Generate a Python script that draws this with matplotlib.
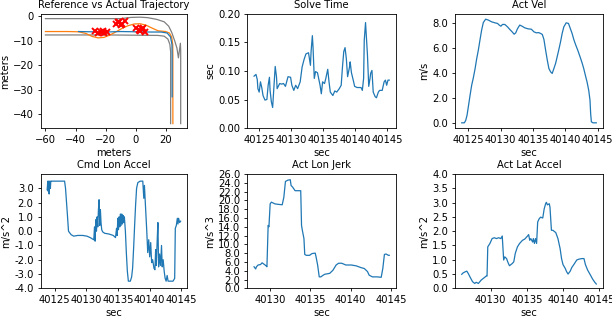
import numpy as np
import matplotlib
matplotlib.use("Agg")
import matplotlib.pyplot as plt
from matplotlib.ticker import FormatStrFormatter

FS = 7.2
plt.rcParams.update({
    "font.family": ["DejaVu Sans"],
    "font.size": FS,
    "axes.titlesize": FS,
    "axes.labelsize": FS,
    "xtick.labelsize": FS,
    "ytick.labelsize": FS,
    "axes.linewidth": 0.6,
    "xtick.major.width": 0.6,
    "ytick.major.width": 0.6,
    "xtick.major.size": 2.5,
    "ytick.major.size": 2.5,
    "xtick.major.pad": 2.5,
    "ytick.major.pad": 2.5,
    "axes.titlepad": 4,
    "axes.labelpad": 2,
})

# ---------------- Trajectory ----------------
lane_outer_x = [-60, -20, -10, -3, 3, 8, 14, 19, 22, 24, 26, 27.5, 28.5, 29.8, 30, 30]
lane_outer_y = [-0.9, -0.9, -0.9, -0.4, -0.3, -0.5, -1.2, -2.2, -4.0, -6.5, -10.0, -13.0, -17.0, -11.0, -14.0, -44]
lane_inner_x = [-60, -20, 0, 15, 19, 21.5, 22.8, 23.3, 23.3]
lane_inner_y = [-7.6, -7.6, -7.7, -7.8, -8.1, -9.3, -11.5, -14.5, -44]
ref_x = [-60, -45, -38, -33, -29, -25, -21, -17, -13, -9, -5, -1, 3, 7, 11, 15, 20, 22.5, 24.0, 24.7, 24.8, 24.8]
ref_y = [-6.2, -6.2, -6.3, -7.0, -8.2, -8.8, -8.6, -7.6, -6.3, -4.9, -3.8, -3.1, -3.0, -3.6, -4.8, -5.9, -6.2, -6.8, -8.5, -11.5, -16.0, -44]
act_x = [-38, -30, -20, -10, 0, 10, 17, 21, 23.2, 24.2, 24.3, 24.3]
act_y = [-6.2, -6.3, -6.4, -6.2, -6.3, -6.4, -6.4, -6.8, -8.4, -11.5, -16.0, -33.0]
obs_x = [-27, -25, -23, -21, -19, -22, -13, -11, -9, -7, -10, -12, 0, 2, 4, 6, 3, 5]
obs_y = [-6.0, -6.8, -6.2, -6.7, -6.3, -5.8, -3.2, -2.4, -2.9, -2.0, -3.4, -2.1, -4.6, -5.6, -5.0, -6.2, -6.0, -4.8]

# ---------------- Solve Time ----------------
solve_t = [40124.2, 40124.5, 40124.7, 40124.8, 40125.0, 40125.2, 40125.4, 40125.6, 40125.9, 40126.2,
           40126.4, 40126.6, 40126.7, 40126.9, 40127.1, 40127.3, 40127.5, 40127.7, 40127.8, 40128.2,
           40128.5, 40128.8, 40129.1, 40129.5, 40129.9, 40130.1, 40130.4, 40130.7, 40131.0, 40131.4,
           40131.7, 40132.0, 40132.3, 40132.7, 40133.0, 40133.1, 40133.3, 40133.4, 40133.6, 40133.8,
           40134.1, 40134.5, 40134.7, 40134.9, 40135.2, 40135.4, 40135.7, 40135.9, 40136.1, 40136.5,
           40136.8, 40137.1, 40137.5, 40137.8, 40138.0, 40138.2, 40138.4, 40138.6, 40138.8, 40139.1,
           40139.2, 40139.4, 40139.7, 40139.9, 40140.3, 40140.9, 40141.1, 40141.3, 40141.4, 40141.6,
           40141.7, 40141.9, 40142.1, 40142.3, 40142.4, 40142.6, 40142.8, 40143.1, 40143.3, 40143.6,
           40143.8, 40144.2, 40144.5, 40144.7, 40144.9, 40145.1, 40145.3]
solve_v = [0.091, 0.094, 0.085, 0.069, 0.063, 0.081, 0.071, 0.057, 0.049, 0.050,
           0.075, 0.089, 0.066, 0.046, 0.036, 0.072, 0.108, 0.090, 0.069, 0.078,
           0.077, 0.078, 0.073, 0.090, 0.089, 0.075, 0.066, 0.075, 0.069, 0.081,
           0.107, 0.120, 0.130, 0.132, 0.110, 0.134, 0.162, 0.143, 0.087, 0.099,
           0.097, 0.075, 0.060, 0.081, 0.078, 0.087, 0.103, 0.081, 0.063, 0.057,
           0.065, 0.063, 0.069, 0.075, 0.107, 0.134, 0.141, 0.122, 0.090, 0.107,
           0.116, 0.097, 0.083, 0.073, 0.071, 0.071, 0.066, 0.087, 0.154, 0.185,
           0.166, 0.128, 0.073, 0.087, 0.096, 0.101, 0.063, 0.055, 0.053, 0.063,
           0.066, 0.066, 0.081, 0.084, 0.075, 0.084, 0.084]

# ---------------- Act Vel ----------------
vel_t = [40123.97, 40124.38, 40124.59, 40124.79, 40125.0, 40125.26, 40125.51, 40125.77, 40126.03, 40126.28,
         40126.54, 40126.79, 40127.05, 40127.31, 40127.67, 40128.08, 40128.59, 40129.10, 40129.51, 40129.77,
         40130.03, 40130.28, 40130.64, 40131.05, 40131.41, 40131.77, 40132.08, 40132.33, 40132.59, 40132.95,
         40133.31, 40133.72, 40134.23, 40134.74, 40135.15, 40135.51, 40135.87, 40136.18, 40136.44, 40136.69,
         40136.95, 40137.21, 40137.46, 40137.72, 40137.97, 40138.23, 40138.49, 40138.74, 40139.00, 40139.26,
         40139.51, 40139.77, 40140.13, 40140.49, 40140.79, 40141.05, 40141.31, 40141.56, 40141.92, 40142.28,
         40142.59, 40142.85, 40143.10, 40143.36, 40143.62, 40143.82, 40143.92, 40144.03, 40144.28, 40144.79]
vel_v = [0.0, 0.0, 0.2, 0.6, 1.3, 2.2, 3.0, 3.6, 4.3, 5.1,
         5.8, 6.6, 7.4, 8.0, 8.27, 8.2, 8.06, 7.98, 7.93, 7.8,
         7.71, 7.85, 7.85, 7.66, 7.45, 7.26, 7.07, 7.18, 7.5, 7.8,
         7.71, 7.58, 7.5, 7.47, 7.26, 7.18, 7.2, 7.13, 7.05, 6.65,
         5.8, 5.0, 4.33, 4.07, 3.94, 4.33, 4.73, 5.27, 5.85, 6.46,
         7.13, 7.66, 7.98, 7.93, 7.5, 7.13, 6.65, 6.28, 5.8, 5.27,
         4.79, 4.33, 3.8, 3.27, 2.6, 1.8, 0.74, 0.08, 0.0, 0.0]

# ---------------- Cmd Lon Accel ----------------
cmd_t = [40123.81, 40123.91, 40123.96, 40124.06, 40124.12, 40124.22, 40124.32, 40124.38, 40124.48, 40126.56,
         40126.71, 40126.87, 40127.03, 40127.18, 40127.34, 40127.60, 40128.01, 40128.64, 40129.42, 40130.09,
         40130.61, 40130.97, 40131.18, 40131.29, 40131.39, 40131.49, 40131.60, 40131.70, 40131.81, 40131.91,
         40132.01, 40132.12, 40132.22, 40132.32, 40132.43, 40132.58, 40132.90, 40133.57, 40134.25, 40134.61,
         40134.77, 40134.87, 40134.97, 40135.08, 40135.18, 40135.29, 40135.39, 40135.49, 40135.60, 40135.70,
         40135.81, 40135.91, 40136.01, 40136.17, 40136.32, 40136.48, 40136.64, 40136.95, 40137.16, 40137.31,
         40137.47, 40137.62, 40137.78, 40137.94, 40138.14, 40138.51, 40138.92, 40139.08, 40139.18, 40139.34,
         40139.55, 40139.70, 40139.86, 40140.01, 40140.17, 40140.32, 40140.48, 40140.69, 40140.84, 40140.95,
         40141.05, 40141.21, 40141.31, 40141.42, 40141.57, 40141.73, 40141.88, 40141.99, 40142.14, 40142.30,
         40142.45, 40142.61, 40142.77, 40142.92, 40143.29, 40143.70, 40143.96, 40144.06, 40144.22, 40144.38,
         40144.48, 40144.58, 40144.74, 40144.90]
cmd_v = [2.9, 3.5, 2.8, 3.5, 2.6, 3.5, 3.0, 3.5, 3.5, 3.5,
         3.0, 2.0, 1.0, 0.0, -0.1, -0.25, -0.35, -0.3, -0.3, -0.35,
         -0.45, -0.55, -0.6, 0.3, -0.7, 0.8, 0.0, 1.0, 0.3, 1.5,
         2.2, 0.4, 1.5, 0.6, 0.1, -0.05, -0.15, -0.2, -0.3, -0.45,
         0.2, -0.3, 0.9, 0.1, 1.0, 0.3, 1.2, 0.4, 1.2, 0.5,
         1.1, 0.6, 1.0, 0.0, -1.5, -2.8, -3.5, -3.5, -3.2, -2.6,
         -1.2, 0.3, 1.8, 3.0, 3.4, 3.5, 3.5, 2.3, 3.2, 1.8,
         0.0, -1.5, -0.6, -1.8, -0.8, -2.2, -2.0, -2.6, -2.7, -1.3,
         -2.4, -0.5, 0.6, -2.5, -1.6, -2.4, -1.0, -2.5, -2.0, -2.8,
         -3.3, -3.5, -3.1, -3.5, -3.5, -3.5, -3.3, 0.2, 0.4, 0.9,
         0.5, 0.9, 0.6, 0.7]

# ---------------- Act Lon Jerk ----------------
jerk_t = [40128.0, 40128.2, 40128.3, 40128.5, 40128.8, 40129.0, 40129.3, 40129.5, 40129.6, 40129.75,
          40129.85, 40130.0, 40130.15, 40130.6, 40131.0, 40131.5, 40131.7, 40131.9, 40132.2, 40132.5,
          40132.6, 40132.8, 40133.1, 40133.5, 40133.8, 40133.9, 40134.0, 40134.2, 40134.3, 40134.5,
          40134.9, 40135.2, 40135.6, 40135.7, 40135.9, 40136.1, 40136.3, 40136.6, 40136.8, 40137.4,
          40137.8, 40138.2, 40138.5, 40138.9, 40139.4, 40140.1, 40140.7, 40141.3, 40141.7, 40142.1,
          40142.3, 40142.7, 40143.3, 40143.8, 40144.0, 40144.2, 40144.4, 40144.7, 40144.8]
jerk_v = [4.9, 4.4, 4.9, 5.3, 5.4, 5.8, 5.4, 5.1, 4.9, 14.3,
          14.0, 19.2, 19.6, 19.2, 19.1, 19.0, 20.7, 24.3, 24.6, 24.7,
          23.4, 23.0, 22.2, 22.2, 22.2, 14.3, 13.2, 11.3, 7.7, 7.5,
          7.5, 7.9, 8.0, 7.2, 5.3, 2.6, 2.6, 3.0, 3.2, 3.4,
          4.1, 5.3, 5.7, 5.7, 5.3, 5.3, 5.1, 4.7, 4.5, 3.8,
          3.0, 2.6, 2.6, 2.5, 4.5, 7.7, 7.8, 7.5, 7.5]

# ---------------- Act Lat Accel ----------------
lat_t = [40126.0, 40126.2, 40126.5, 40126.7, 40126.9, 40127.2, 40127.5, 40127.8, 40128.0, 40128.3,
         40128.7, 40129.1, 40129.4, 40129.5, 40129.6, 40129.9, 40130.2, 40130.5, 40130.8, 40131.1,
         40131.4, 40131.6, 40131.8, 40131.95, 40132.2, 40132.4, 40132.6, 40133.0, 40133.2, 40133.4,
         40133.7, 40134.0, 40134.4, 40134.7, 40135.1, 40135.25, 40135.4, 40135.55, 40135.8, 40135.9,
         40136.05, 40136.2, 40136.35, 40136.5, 40136.7, 40136.9, 40137.2, 40137.4, 40137.6, 40137.7,
         40137.85, 40138.1, 40138.2, 40138.4, 40138.6, 40139.0, 40139.3, 40139.6, 40139.8, 40140.0,
         40140.3, 40140.5, 40140.7, 40141.0, 40141.2, 40141.6, 40141.9, 40142.2, 40142.6, 40142.9,
         40143.1, 40143.4, 40143.8, 40144.1, 40144.4, 40144.6]
lat_v = [0.49, 0.54, 0.58, 0.60, 0.52, 0.37, 0.23, 0.17, 0.21, 0.17,
         0.29, 0.37, 0.43, 0.43, 1.45, 1.57, 1.74, 1.77, 1.74, 1.77,
         1.74, 1.83, 0.99, 1.10, 1.04, 0.90, 0.79, 0.87, 0.93, 1.22,
         1.45, 1.57, 1.68, 1.72, 1.83, 1.88, 1.68, 1.74, 1.62, 1.74,
         1.57, 1.74, 1.57, 2.32, 2.43, 2.49, 2.46, 2.78, 2.96, 3.01,
         2.92, 2.96, 2.84, 2.03, 2.03, 1.95, 1.74, 1.39, 1.04, 0.83,
         0.70, 0.58, 0.50, 0.60, 0.72, 0.87, 0.99, 1.02, 1.04, 1.04,
         0.83, 0.64, 0.46, 0.32, 0.21, 0.15]

W, H = 612, 318
fig = plt.figure(figsize=(W / 100, H / 100), dpi=100)

cols = [(40.5, 187.3), (247.3, 396), (455, 603)]
rows = [(14, 128), (174, 288.3)]

def make_ax(r, c):
    l, rr = cols[c]
    t, b = rows[r]
    return fig.add_axes([l / W, 1 - b / H, (rr - l) / W, (b - t) / H])

blue = "#1f77b4"
orange = "#ff7f0e"
LW = 0.9

# Trajectory
ax = make_ax(0, 0)
ax.plot(lane_outer_x, lane_outer_y, color="gray", lw=LW)
ax.plot(lane_inner_x, lane_inner_y, color="gray", lw=LW)
ax.plot(ref_x, ref_y, color=orange, lw=LW)
ax.plot(act_x, act_y, color=blue, lw=LW)
ax.plot(obs_x, obs_y, "x", color="red", ms=4.5, mew=1.4)
ax.set_title("Reference vs Actual Trajectory")
ax.set_xlabel("meters")
ax.set_ylabel("meters")
ax.set_xlim(-63.3, 34.4)
ax.set_ylim(-45.8, 1.0)
ax.set_xticks([-60, -40, -20, 0, 20])
ax.set_yticks([0, -10, -20, -30, -40])

def ts_ax(ax, t, v, title, ylabel):
    ax.plot(t, v, color=blue, lw=LW)
    ax.set_title(title)
    ax.set_xlabel("sec")
    ax.set_ylabel(ylabel)
    ax.ticklabel_format(axis="x", useOffset=False, style="plain")

ax = make_ax(0, 1)
ts_ax(ax, solve_t, solve_v, "Solve Time", "sec")
ax.set_ylim(0, 0.2)
ax.set_yticks(np.arange(0, 0.201, 0.05))
ax.yaxis.set_major_formatter(FormatStrFormatter("%.2f"))
ax.set_xticks([40125, 40130, 40135, 40140, 40145])

ax = make_ax(0, 2)
ts_ax(ax, vel_t, vel_v, "Act Vel", "m/s")
ax.set_yticks([0, 2, 4, 6, 8])
ax.yaxis.set_major_formatter(FormatStrFormatter("%.1f"))
ax.set_xticks([40125, 40130, 40135, 40140, 40145])

ax = make_ax(1, 0)
ts_ax(ax, cmd_t, cmd_v, "Cmd Lon Accel", "m/s^2")
ax.set_ylim(-4, 4)
ax.set_yticks(np.arange(-4, 4, 1.0))
ax.yaxis.set_major_formatter(FormatStrFormatter("%.1f"))
ax.set_xticks([40125, 40130, 40135, 40140, 40145])

ax = make_ax(1, 1)
ts_ax(ax, jerk_t, jerk_v, "Act Lon Jerk", "m/s^3")
ax.set_ylim(0, 26)
ax.set_yticks(np.arange(0, 26.1, 2.0))
ax.yaxis.set_major_formatter(FormatStrFormatter("%.1f"))
ax.set_xticks([40130, 40135, 40140, 40145])

ax = make_ax(1, 2)
ts_ax(ax, lat_t, lat_v, "Act Lat Accel", "m/s^2")
ax.set_ylim(0, 4)
ax.set_yticks(np.arange(0, 4.01, 0.5))
ax.yaxis.set_major_formatter(FormatStrFormatter("%.1f"))
ax.set_xticks([40130, 40135, 40140, 40145])

fig.savefig("out.png", dpi=100)
